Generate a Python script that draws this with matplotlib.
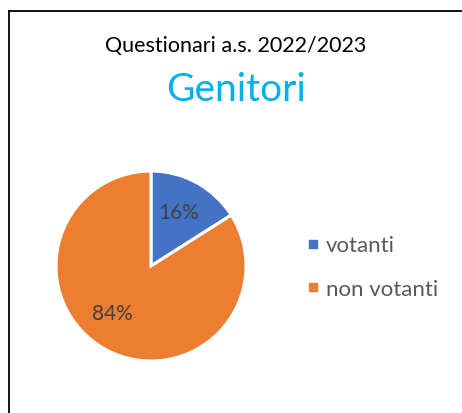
import matplotlib.pyplot as plt
from matplotlib.lines import Line2D

# chart data
labels = ['votanti', 'non votanti']
values = [16, 84]
colors = ['#4472C4', '#ED7D31']
title_top = 'Questionari a.s. 2022/2023'
title_main = 'Genitori'

plt.rcParams['font.family'] = ['Lato', 'DejaVu Sans']

W, H = 462, 414
fig = plt.figure(figsize=(W / 100, H / 100), dpi=100)

# frame of the chart area (only left and top edges visible)
x0, y0 = 8.5 / W, 1 - 11.5 / H
fig.lines.append(Line2D([x0, x0], [0, y0], transform=fig.transFigure, color='black', lw=1.3))
fig.lines.append(Line2D([x0, 1], [y0, y0], transform=fig.transFigure, color='black', lw=1.3))

fig.text(236 / W, 1 - 46 / H, title_top, ha='center', va='center', fontsize=15.5, color='black')
fig.text(236 / W, 1 - 90 / H, title_main, ha='center', va='center', fontsize=28, color='#00B0F0')

# pie: centre (151, 267) px, radius 95 px
cx, cy, r = 151, 267, 95
ax = fig.add_axes([(cx - r) / W, (H - cy - r) / H, 2 * r / W, 2 * r / H])
wedges, texts, autotexts = ax.pie(values, colors=colors, startangle=90, counterclock=False,
                                  autopct='%1.0f%%', pctdistance=0.64,
                                  wedgeprops=dict(edgecolor='white', linewidth=2.2),
                                  textprops=dict(color='#404040', fontsize=15))
# excel "best fit" label spots
autotexts[0].set_position((0.29, 0.57))
autotexts[1].set_position((-0.41, -0.49))
ax.set_xlim(-1, 1)
ax.set_ylim(-1, 1)
ax.set_aspect('equal')
ax.axis('off')

handles = [Line2D([], [], marker='s', linestyle='none', markersize=6, color=c) for c in colors]
leg = fig.legend(handles, labels, loc='center left', bbox_to_anchor=(286 / W, 1 - 268 / H),
                 frameon=False, fontsize=16, handlelength=0.6, handletextpad=0.3,
                 labelspacing=1.05, labelcolor='#595959')

fig.savefig('out.png', dpi=100)
